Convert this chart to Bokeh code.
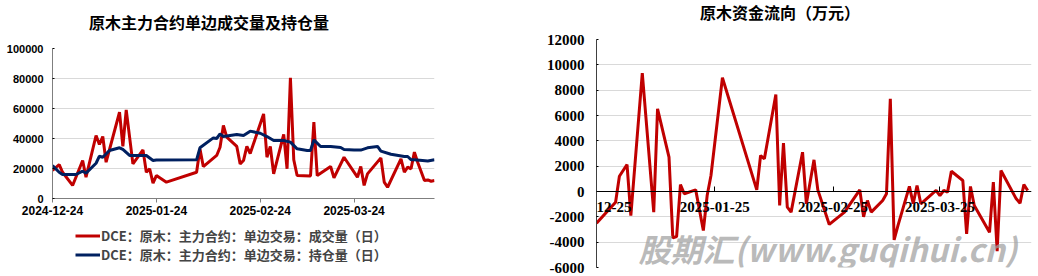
import pandas as pd
from bokeh.plotting import figure
from bokeh.layouts import row, column
from bokeh.models import (Range1d, FixedTicker, DatetimeTickFormatter, NumeralTickFormatter, Label,
                          LabelSet, ColumnDataSource, Legend, LegendItem, Div)
from bokeh.embed import file_html
from bokeh.resources import INLINE

# ---------------- data: left chart ----------------
left_title = "原木主力合约单边成交量及持仓量"
vol_label = "DCE：原木：主力合约：单边交易：成交量（日）"
oi_label = "DCE：原木：主力合约：单边交易：持仓量（日）"

vol_dates = ["2024-12-24", "2024-12-26", "2024-12-27", "2024-12-30", "2025-01-02", "2025-01-03",
             "2025-01-06", "2025-01-07", "2025-01-08", "2025-01-09", "2025-01-13", "2025-01-14",
             "2025-01-15", "2025-01-17", "2025-01-20", "2025-01-21", "2025-01-22", "2025-01-23",
             "2025-01-24", "2025-01-27", "2025-02-05", "2025-02-06", "2025-02-07", "2025-02-11",
             "2025-02-12", "2025-02-13", "2025-02-14", "2025-02-17", "2025-02-18", "2025-02-19",
             "2025-02-20", "2025-02-21", "2025-02-25", "2025-02-26", "2025-02-27", "2025-02-28",
             "2025-03-03", "2025-03-04", "2025-03-05", "2025-03-06", "2025-03-07", "2025-03-11",
             "2025-03-12", "2025-03-13", "2025-03-17", "2025-03-18", "2025-03-21", "2025-03-25",
             "2025-03-26", "2025-03-27", "2025-03-28", "2025-04-01", "2025-04-02", "2025-04-03",
             "2025-04-07", "2025-04-08", "2025-04-09", "2025-04-10", "2025-04-11", "2025-04-12",
             "2025-04-14", "2025-04-15", "2025-04-16", "2025-04-17"]
vol_values = [18700, 22600, 17500, 8700, 25300, 14200,
              42000, 36000, 41300, 24200, 57500, 34700,
              59100, 23100, 32400, 17500, 19800, 10200,
              15300, 10900, 17500, 33100, 21300, 28700,
              34200, 48700, 40900, 34700, 23100, 25300,
              34700, 30000, 56400, 27500, 34700, 16400,
              42700, 19800, 80400, 25800, 15300, 15000,
              50900, 15300, 21300, 13800, 27500, 14200,
              21300, 8700, 16400, 27100, 10900, 7500,
              26400, 17500, 20900, 19800, 30900, 24000,
              12000, 12400, 11500, 12000]

oi_dates = ["2024-12-24", "2024-12-26", "2024-12-27", "2024-12-31", "2025-01-02", "2025-01-03",
            "2025-01-06", "2025-01-07", "2025-01-08", "2025-01-10", "2025-01-13", "2025-01-14",
            "2025-01-16", "2025-01-21", "2025-01-23", "2025-01-24", "2025-02-05", "2025-02-06",
            "2025-02-10", "2025-02-11", "2025-02-12", "2025-02-13", "2025-02-17", "2025-02-19",
            "2025-02-21", "2025-02-24", "2025-02-26", "2025-02-28", "2025-03-03", "2025-03-05",
            "2025-03-07", "2025-03-10", "2025-03-11", "2025-03-12", "2025-03-14", "2025-03-17",
            "2025-03-20", "2025-03-21", "2025-03-24", "2025-03-26", "2025-03-28", "2025-03-31",
            "2025-04-01", "2025-04-04", "2025-04-08", "2025-04-09", "2025-04-10", "2025-04-11",
            "2025-04-15", "2025-04-17"]
oi_values = [22000, 17500, 16000, 16000, 18200, 16900,
             23500, 28200, 27500, 32000, 33800, 32700,
             28700, 28700, 25300, 25700, 25800, 33800,
             40400, 40000, 43100, 41300, 42700, 42000,
             44900, 43500, 41300, 38700, 38700, 37600,
             33100, 32000, 32000, 39100, 34700, 34700,
             34000, 32700, 32300, 32300, 33800, 34700,
             31600, 29500, 28000, 28000, 25800, 25800,
             25000, 25800]

left_x_range = ["2024-12-24", "2025-04-17"]
left_x_ticks = ["2024-12-24", "2025-01-24", "2025-02-24", "2025-03-24"]
left_y_ticks = [0, 20000, 40000, 60000, 80000, 100000]

# ---------------- data: right chart ----------------
right_title = "原木资金流向（万元）"
flow_dates = ["2024-12-25", "2024-12-30", "2024-12-31", "2025-01-02", "2025-01-03", "2025-01-06",
              "2025-01-09", "2025-01-10", "2025-01-13", "2025-01-14", "2025-01-15", "2025-01-16",
              "2025-01-17", "2025-01-20", "2025-01-22", "2025-01-23", "2025-01-24", "2025-01-27",
              "2025-02-05", "2025-02-06", "2025-02-07", "2025-02-10", "2025-02-11", "2025-02-12",
              "2025-02-13", "2025-02-14", "2025-02-17", "2025-02-18", "2025-02-20", "2025-02-21",
              "2025-02-24", "2025-02-28", "2025-03-04", "2025-03-05", "2025-03-06", "2025-03-07",
              "2025-03-10", "2025-03-11", "2025-03-12", "2025-03-13", "2025-03-14", "2025-03-17",
              "2025-03-18", "2025-03-19", "2025-03-20", "2025-03-24", "2025-03-25", "2025-03-26",
              "2025-03-27", "2025-03-28", "2025-03-31", "2025-04-01", "2025-04-02", "2025-04-03",
              "2025-04-07", "2025-04-08", "2025-04-09", "2025-04-10", "2025-04-14", "2025-04-15",
              "2025-04-16", "2025-04-17"]
flow_values = [-2500, -850, 1200, 2130, -1900, 9350,
               -1630, 6530, 2710, -3660, -3550, 550,
               -180, 130, -3080, -320, 1260, 8980,
               130, 2840, 2580, 7660, -1100, 3820,
               -1240, -1630, 3100, -970, 2500, 130,
               -2600, -1630, 130, -2000, -710, -1630,
               -710, -180, 7320, -3820, -2690, 400,
               -970, 470, -970, 80, -320, 80,
               -50, 1600, 870, -3340, 400, -1100,
               -3220, 740, -4720, 1660, -580, -920,
               550, 80]
right_x_range = ["2024-12-25", "2025-04-18"]
right_x_ticks = ["2024-12-25", "2025-01-25", "2025-02-25", "2025-03-25"]
right_y_ticks = [-6000, -4000, -2000, 0, 2000, 4000, 6000, 8000, 10000, 12000]
watermark = "股期汇(www.guqihui.cn)"

RED = "#c00000"
BLUE = "#002060"
CJK = "Noto Sans CJK SC"


def ms(d):
    return pd.Timestamp(d).value // 10**6


def date_fmt():
    f = "%Y-%m-%d"
    return DatetimeTickFormatter(days=f, months=f, years=f)


def title_div(text, width, height, pad_top, pad_left):
    html = ('<div style="font-family:\'Noto Sans CJK SC\';font-weight:bold;font-size:16px;'
            'line-height:20px;color:black;white-space:nowrap;'
            'padding-top:%dpx;padding-left:%dpx;">%s</div>' % (pad_top, pad_left, text))
    return Div(text=html, width=width, height=height, margin=(0, 0, 0, 0))


vol_x = [ms(d) for d in vol_dates]
oi_x = [ms(d) for d in oi_dates]
flow_x = [ms(d) for d in flow_dates]

# ---------------- left figure ----------------
p1 = figure(width=520, height=195, x_axis_type="datetime", output_backend="svg",
            toolbar_location=None,
            x_range=Range1d(ms(left_x_range[0]), ms(left_x_range[1])),
            y_range=Range1d(left_y_ticks[0], left_y_ticks[-1]),
            min_border_left=52, min_border_right=86, min_border_top=18, min_border_bottom=27)
p1.frame_align = False
p1.outline_line_color = None
p1.xgrid.visible = False
p1.ygrid.grid_line_color = "#d9d9d9"

p1.yaxis.ticker = FixedTicker(ticks=left_y_ticks)
p1.yaxis.formatter = NumeralTickFormatter(format="0")
p1.yaxis.major_tick_out = 0
p1.yaxis.minor_tick_out = 0
p1.yaxis.axis_line_color = "#7f7f7f"
p1.yaxis.major_label_text_font = "Liberation Sans"
p1.yaxis.major_label_text_font_style = "bold"
p1.yaxis.major_label_text_font_size = "11px"
p1.yaxis.major_label_text_color = "black"
p1.yaxis.major_label_standoff = 9

p1.xaxis.ticker = FixedTicker(ticks=[ms(d) for d in left_x_ticks])
p1.xaxis.formatter = date_fmt()
p1.xaxis.major_tick_out = 4
p1.xaxis.major_tick_in = 0
p1.xaxis.minor_tick_out = 0
p1.xaxis.axis_line_color = "#7f7f7f"
p1.xaxis.major_tick_line_color = "#7f7f7f"
p1.xaxis.major_label_text_font = "Liberation Sans"
p1.xaxis.major_label_text_font_style = "bold"
p1.xaxis.major_label_text_font_size = "12px"
p1.xaxis.major_label_text_color = "black"
p1.xaxis.major_label_standoff = 3

p1.line(vol_x, vol_values, line_color=RED, line_width=3)
p1.line(oi_x, oi_values, line_color=BLUE, line_width=3)

# legend strip under the left chart: same two series, their data lies outside this
# small frame, so only the legend (glyph + label) is visible here
pl = figure(width=520, height=51, output_backend="svg", toolbar_location=None,
            x_axis_location=None, y_axis_location=None,
            x_range=Range1d(0, 1), y_range=Range1d(0, 1),
            min_border_left=0, min_border_right=0, min_border_top=0, min_border_bottom=0)
pl.frame_align = False
pl.outline_line_color = None
pl.xgrid.visible = False
pl.ygrid.visible = False
k_vol = pl.line(vol_x, vol_values, line_color=RED, line_width=3)
k_oi = pl.line(oi_x, oi_values, line_color=BLUE, line_width=3)
legend = Legend(items=[LegendItem(label=vol_label, renderers=[k_vol]),
                       LegendItem(label=oi_label, renderers=[k_oi])],
                location=(73, 10), orientation="vertical", padding=2, margin=0, spacing=0,
                label_height=19, glyph_height=19, glyph_width=25, label_standoff=1,
                border_line_alpha=0, background_fill_alpha=0,
                label_text_font=CJK, label_text_font_style="bold", label_text_font_size="13px")
pl.add_layout(legend)

# ---------------- right figure ----------------
p2 = figure(width=518, height=252, x_axis_type="datetime", output_backend="svg",
            toolbar_location=None,
            x_range=Range1d(ms(right_x_range[0]), ms(right_x_range[1])),
            y_range=Range1d(right_y_ticks[0], right_y_ticks[-1]),
            min_border_left=76, min_border_right=7, min_border_top=15, min_border_bottom=9)
p2.frame_align = False
p2.outline_line_color = None
p2.xgrid.visible = False
p2.ygrid.grid_line_color = "#d9d9d9"

p2.yaxis.ticker = FixedTicker(ticks=right_y_ticks)
p2.yaxis.formatter = NumeralTickFormatter(format="0")
p2.yaxis.major_tick_out = 0
p2.yaxis.minor_tick_out = 0
p2.yaxis.axis_line_color = "#404040"
p2.yaxis.major_label_text_font = "Liberation Serif"
p2.yaxis.major_label_text_font_style = "bold"
p2.yaxis.major_label_text_font_size = "15px"
p2.yaxis.major_label_text_color = "black"
p2.yaxis.major_label_standoff = 12

p2.xaxis.fixed_location = 0
p2.xaxis.ticker = FixedTicker(ticks=[ms(d) for d in right_x_ticks])
p2.xaxis.formatter = date_fmt()
p2.xaxis.major_tick_out = 0
p2.xaxis.major_tick_in = 5
p2.xaxis.minor_tick_out = 0
p2.xaxis.axis_line_color = "black"
p2.xaxis.major_tick_line_color = "black"
p2.xaxis.major_label_text_alpha = 0

p2.line(flow_x, flow_values, line_color=RED, line_width=3)

tick_src = ColumnDataSource(dict(x=[ms(d) for d in right_x_ticks], y=[0] * len(right_x_ticks),
                                 text=right_x_ticks))
p2.add_layout(LabelSet(x="x", y="y", text="text", source=tick_src, text_align="center",
                       text_baseline="top", y_offset=-10, text_font="Liberation Serif",
                       text_font_style="bold", text_font_size="15px", text_color="black"))

wm = Label(x=42, y=-3, x_units="screen", y_units="screen", text=watermark,
           text_font=CJK, text_font_style="bold italic", text_font_size="32px",
           text_color="#a0a0a0", text_alpha=0.72)
p2.add_layout(wm)

left_col = column(title_div(left_title, 520, 30, 12, 89), p1, pl, spacing=0)
right_col = column(title_div(right_title, 518, 24, 2, 180), p2, spacing=0)
layout = row(left_col, right_col, spacing=0)
open("out.html", "w").write(file_html(layout, INLINE))
